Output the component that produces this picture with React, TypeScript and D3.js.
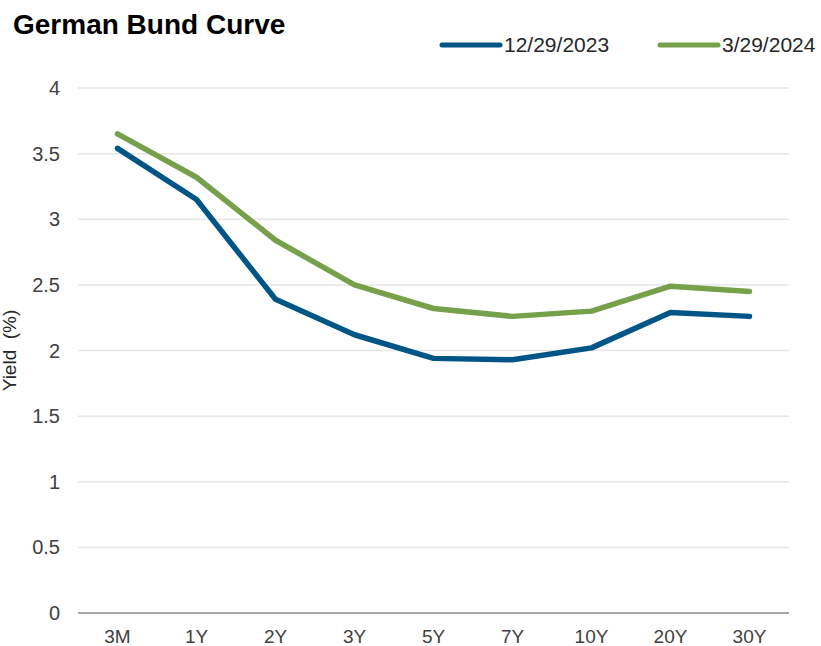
import * as d3 from 'd3'

const WIDTH = 821
const HEIGHT = 646
const MARGIN = { top: 88, right: 32, bottom: 33, left: 78 }

const tenors = ['3M', '1Y', '2Y', '3Y', '5Y', '7Y', '10Y', '20Y', '30Y']
const yieldsDec2023 = [3.54, 3.15, 2.39, 2.12, 1.94, 1.93, 2.02, 2.29, 2.26]
const yieldsMar2024 = [3.65, 3.32, 2.84, 2.50, 2.32, 2.26, 2.30, 2.49, 2.45]
const yTicks = [0, 0.5, 1, 1.5, 2, 2.5, 3, 3.5, 4]

const seriesList = [
  { name: '12/29/2023', values: yieldsDec2023, color: '#005587' },
  { name: '3/29/2024', values: yieldsMar2024, color: '#77a04a' }
]

const FONT = 'Arial, "Liberation Sans", Helvetica, sans-serif'

export default function App() {
  const innerWidth = WIDTH - MARGIN.left - MARGIN.right
  const innerHeight = HEIGHT - MARGIN.top - MARGIN.bottom

  const xScale = d3.scalePoint<string>()
    .domain(tenors)
    .range([0, innerWidth])
    .padding(0.5)

  const yScale = d3.scaleLinear()
    .domain([0, 4])
    .range([innerHeight, 0])

  const line = d3.line<number>()
    .x((_, i) => xScale(tenors[i]) ?? 0)
    .y(d => yScale(d))

  return (
    <svg
      width={WIDTH}
      height={HEIGHT}
      style={{ position: 'absolute', top: 0, left: 0, background: '#fff' }}
      fontFamily={FONT}
    >
      {/* Title */}
      <text x={13} y={34} fontSize={28} fontWeight="bold" fill="#000">
        German Bund Curve
      </text>

      {/* Legend */}
      {seriesList.map((s, i) => {
        const lx = 442 + i * 218
        return (
          <g key={s.name}>
            <line x1={lx} x2={lx + 58} y1={45} y2={45} stroke={s.color} strokeWidth={5} strokeLinecap="round" />
            <text x={lx + 62} y={52} fontSize={21} fill="#262626">{s.name}</text>
          </g>
        )
      })}

      {/* Y axis title */}
      <text
        transform={`translate(16, ${MARGIN.top + innerHeight / 2}) rotate(-90)`}
        textAnchor="middle"
        fontSize={19}
        fill="#262626"
      >
        {'Yield\u00a0\u00a0(%)'}
      </text>

      <g transform={`translate(${MARGIN.left}, ${MARGIN.top})`}>
        {/* Grid lines + Y labels */}
        {yTicks.map(t => (
          <g key={t}>
            {t > 0 && (
              <line x1={0} x2={innerWidth} y1={yScale(t)} y2={yScale(t)} stroke="#e6e6e6" strokeWidth={1.5} />
            )}
            <text
              x={-18}
              y={yScale(t)}
              textAnchor="end"
              dominantBaseline="central"
              fontSize={20}
              fill="#404040"
            >
              {t}
            </text>
          </g>
        ))}

        {/* X axis baseline */}
        <line x1={0} x2={innerWidth} y1={innerHeight} y2={innerHeight} stroke="#a6a6a6" strokeWidth={2} />

        {/* X labels */}
        {tenors.map(t => (
          <text
            key={t}
            x={xScale(t)}
            y={innerHeight + 30}
            textAnchor="middle"
            fontSize={19}
            fill="#404040"
          >
            {t}
          </text>
        ))}

        {/* Lines */}
        {seriesList.map(s => (
          <path
            key={s.name}
            d={line(s.values) ?? ''}
            fill="none"
            stroke={s.color}
            strokeWidth={5.5}
            strokeLinejoin="round"
            strokeLinecap="round"
          />
        ))}
      </g>
    </svg>
  )
}
